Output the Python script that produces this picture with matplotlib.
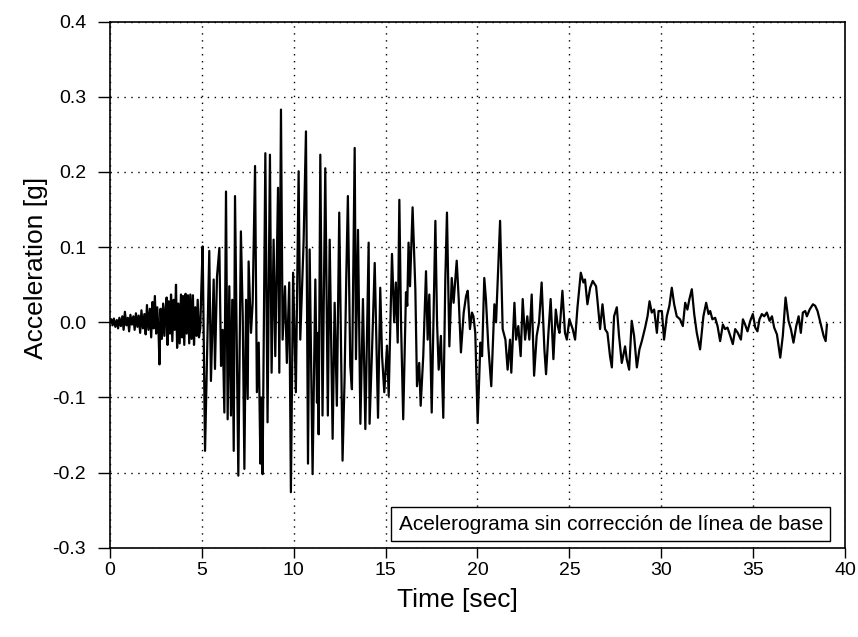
import matplotlib
matplotlib.use("Agg")
import matplotlib.pyplot as plt

plt.rcParams['font.family'] = ['Liberation Sans', 'DejaVu Sans']

# turning points of the record (time [s], acceleration [g])
t = [0.00, 0.08, 0.15, 0.22, 0.30, 0.38, 0.45, 0.52, 0.60, 0.68, 0.75, 0.82, 0.90, 0.98,
     1.05, 1.12, 1.20, 1.28, 1.35, 1.42, 1.50, 1.57, 1.65, 1.72, 1.80, 1.88, 1.95,
     2.02, 2.10, 2.18, 2.25, 2.32, 2.38, 2.45, 2.52, 2.58, 2.65, 2.70, 2.76, 2.83, 2.90, 2.97,
     3.04, 3.09, 3.14, 3.20, 3.27, 3.33, 3.40, 3.47, 3.53, 3.60, 3.66, 3.73, 3.80, 3.87, 3.93, 3.98,
     4.05, 4.12, 4.18, 4.25, 4.32, 4.38, 4.45, 4.52, 4.58, 4.65, 4.72, 4.78, 4.85, 4.92, 4.98,
     5.05, 5.18, 5.41, 5.50, 5.65, 5.72, 5.83, 5.96,
     6.05, 6.14, 6.23, 6.32, 6.41, 6.50, 6.59, 6.66, 6.74, 6.81, 6.90, 6.99,
     7.13, 7.23, 7.32, 7.41, 7.50, 7.55, 7.68, 7.77, 7.90,
     8.00, 8.10, 8.19, 8.24, 8.31, 8.46, 8.58, 8.71, 8.80, 8.91,
     9.00, 9.15, 9.22, 9.31, 9.40, 9.53, 9.63, 9.76, 9.85, 9.97,
     10.12, 10.27, 10.36, 10.54, 10.67, 10.78, 10.87,
     11.03, 11.18, 11.27, 11.32, 11.36, 11.45, 11.57, 11.72, 11.86, 11.96,
     12.12, 12.23, 12.35, 12.48, 12.66, 12.77, 12.86, 12.95,
     13.08, 13.17, 13.32, 13.39, 13.50, 13.63, 13.77, 13.90,
     14.08, 14.13, 14.26, 14.41, 14.59, 14.71, 14.81, 14.93,
     15.08, 15.17, 15.35, 15.47, 15.56, 15.66, 15.75, 15.84, 15.96,
     16.11, 16.18, 16.25, 16.33, 16.47, 16.62, 16.71, 16.83, 16.91,
     17.05, 17.20, 17.29, 17.38, 17.51, 17.71, 17.80, 17.89,
     18.01, 18.14, 18.25, 18.34, 18.47, 18.60, 18.70, 18.87, 18.98,
     19.10, 19.25, 19.38, 19.47, 19.59, 19.70, 19.78, 19.88,
     20.01, 20.16, 20.25, 20.37, 20.46, 20.59, 20.75, 20.92,
     21.01, 21.23, 21.37, 21.52, 21.64, 21.77, 21.84,
     22.01, 22.10, 22.22, 22.35, 22.46, 22.59, 22.71, 22.82, 22.95,
     23.08, 23.22, 23.35, 23.49, 23.64, 23.73, 23.86, 23.98,
     24.13, 24.26, 24.37, 24.46, 24.62, 24.76, 24.86,
     25.00, 25.18, 25.31, 25.44, 25.62, 25.76, 25.85, 25.98,
     26.13, 26.27, 26.45, 26.52, 26.67, 26.80, 26.94,
     27.07, 27.21, 27.31, 27.43, 27.58, 27.70, 27.85,
     28.03, 28.12, 28.25, 28.39, 28.52, 28.67, 28.81, 28.94,
     29.12, 29.25, 29.36, 29.48, 29.61, 29.76, 29.85,
     30.03, 30.15, 30.30, 30.44, 30.57, 30.70, 30.84,
     31.02, 31.17, 31.30, 31.42, 31.53, 31.66, 31.79, 31.93,
     32.11, 32.29, 32.44, 32.57, 32.66, 32.78, 32.93,
     33.06, 33.20, 33.35, 33.47, 33.60, 33.75, 33.89,
     34.02, 34.16, 34.33, 34.44, 34.56, 34.69, 34.84, 34.98,
     35.11, 35.23, 35.34, 35.47, 35.60, 35.74, 35.89,
     36.02, 36.14, 36.29, 36.47, 36.61, 36.76, 36.92,
     37.05, 37.19, 37.34, 37.47, 37.59, 37.70, 37.83, 37.92,
     38.07, 38.25, 38.37, 38.50, 38.65, 38.83, 38.94, 39.01]

acc = [0.000, 0.004, -0.004, 0.005, -0.006, 0.003, -0.008, 0.006, -0.005, 0.008, -0.010, 0.014, -0.004, 0.006,
       -0.012, 0.010, -0.003, 0.008, -0.010, 0.012, -0.006, 0.009, -0.014, 0.016, -0.008, 0.011, -0.016,
       0.023, -0.010, 0.018, -0.020, 0.027, -0.008, 0.035, -0.015, 0.020, -0.012, -0.056, 0.018, -0.022, 0.025, -0.018,
       0.020, 0.033, -0.030, 0.028, -0.015, 0.037, -0.025, 0.030, -0.010, 0.050, -0.034, 0.025, -0.028, 0.037, -0.020, 0.035,
       -0.030, 0.038, -0.015, 0.036, -0.028, 0.037, -0.022, 0.036, -0.030, 0.020, -0.018, 0.030, -0.020, -0.008, 0.046,
       0.101, -0.171, 0.095, -0.078, 0.057, -0.062, 0.061, 0.099,
       -0.058, -0.010, -0.120, 0.174, -0.129, 0.048, -0.124, 0.030, -0.171, 0.168, -0.014, -0.204,
       0.121, 0.008, -0.195, 0.030, -0.102, 0.081, -0.014, 0.026, 0.208,
       -0.093, -0.027, -0.188, -0.100, -0.202, 0.225, -0.133, 0.223, -0.067, 0.110,
       -0.045, 0.179, -0.067, 0.283, -0.023, 0.048, -0.054, 0.053, -0.226, 0.066,
       -0.093, 0.201, -0.023, 0.106, 0.254, -0.188, 0.097,
       -0.202, 0.057, -0.107, -0.014, -0.149, 0.223, -0.124, 0.205, -0.124, 0.110,
       -0.155, 0.026, -0.111, 0.146, -0.184, -0.076, 0.057, 0.168,
       -0.058, -0.089, 0.232, -0.049, 0.123, -0.135, 0.031, -0.142,
       0.106, -0.135, -0.040, 0.079, -0.127, 0.046, -0.045, -0.093,
       -0.031, -0.098, 0.091, 0.000, 0.053, -0.027, 0.163, 0.000, -0.129,
       0.040, 0.022, 0.106, 0.048, 0.153, 0.044, -0.085, -0.054, -0.111,
       -0.045, 0.068, -0.023, 0.037, -0.120, 0.135, 0.000, -0.063,
       -0.018, -0.127, 0.057, 0.146, -0.032, 0.059, 0.026, 0.082, 0.031,
       -0.040, 0.013, 0.035, 0.042, -0.009, 0.013, 0.008, -0.014,
       -0.134, -0.027, -0.045, 0.059, 0.031, -0.032, -0.085, 0.024,
       0.000, 0.135, -0.009, -0.023, -0.063, -0.023, -0.067,
       0.026, -0.023, -0.005, -0.045, 0.031, -0.023, 0.008, -0.023, 0.037,
       -0.071, -0.018, 0.000, 0.053, -0.036, -0.069, -0.014, 0.031,
       -0.049, 0.017, -0.005, -0.014, 0.042, -0.014, -0.023,
       0.004, -0.009, -0.023, 0.020, 0.066, 0.053, 0.057, 0.024,
       0.046, 0.055, 0.048, 0.031, -0.009, 0.024, -0.009,
       -0.014, -0.045, -0.060, 0.008, 0.020, -0.018, -0.054,
       -0.032, -0.049, -0.063, 0.002, -0.018, -0.060, -0.036, -0.025,
       -0.007, 0.008, 0.028, 0.013, 0.017, -0.014, 0.015,
       0.015, -0.023, 0.008, 0.022, 0.046, 0.024, 0.008,
       0.004, -0.005, 0.026, 0.017, 0.031, 0.044, 0.011, -0.014,
       -0.036, 0.008, 0.026, 0.011, 0.015, 0.004, 0.006,
       -0.005, -0.025, -0.003, -0.009, -0.007, -0.018, -0.029,
       -0.009, -0.014, -0.023, 0.004, -0.003, -0.012, 0.002, 0.011,
       -0.007, -0.012, 0.004, 0.011, 0.008, 0.013, 0.002,
       0.008, -0.007, -0.016, -0.047, -0.018, 0.033, 0.002,
       -0.009, -0.027, -0.005, 0.008, -0.014, 0.013, 0.015, 0.008,
       0.017, 0.024, 0.022, 0.015, 0.000, -0.018, -0.025, -0.003]

x_ticks = [0, 5, 10, 15, 20, 25, 30, 35, 40]
y_ticks = [-0.3, -0.2, -0.1, 0.0, 0.1, 0.2, 0.3, 0.4]
y_tick_labels = ['-0.3', '-0.2', '-0.1', '0.0', '0.1', '0.2', '0.3', '0.4']
label_text = 'Acelerograma sin corrección de línea de base'

fig = plt.figure(figsize=(8.58, 6.37), dpi=100)
ax = fig.add_axes([0.128, 0.140, 0.857, 0.826])

ax.plot(t, acc, color='black', linewidth=1.6)

ax.set_xlim(0, 40)
ax.set_ylim(-0.3, 0.4)
ax.set_xticks(x_ticks)
ax.set_yticks(y_ticks)
ax.set_yticklabels(y_tick_labels)
ax.tick_params(direction='out', width=1, labelsize=14, colors='black')
ax.tick_params(axis='x', length=7, pad=3)
ax.tick_params(axis='y', length=9, pad=8)
ax.grid(True, linestyle=(0, (1, 4)), color='black', linewidth=1)
for s in ax.spines.values():
    s.set_linewidth(1.2)

ax.set_xlabel('Time [sec]', fontsize=19, va='top')
ax.xaxis.set_label_coords(0.473, -0.077)
ax.set_ylabel('Acceleration [g]', fontsize=19)
ax.yaxis.set_label_coords(-0.084, 0.531)

ax.text(0.970, 0.027, label_text, transform=ax.transAxes, ha='right', va='bottom',
        fontsize=15, bbox=dict(boxstyle='square,pad=0.35', fc='white', ec='black', lw=1))

fig.savefig('out.png', dpi=100)
